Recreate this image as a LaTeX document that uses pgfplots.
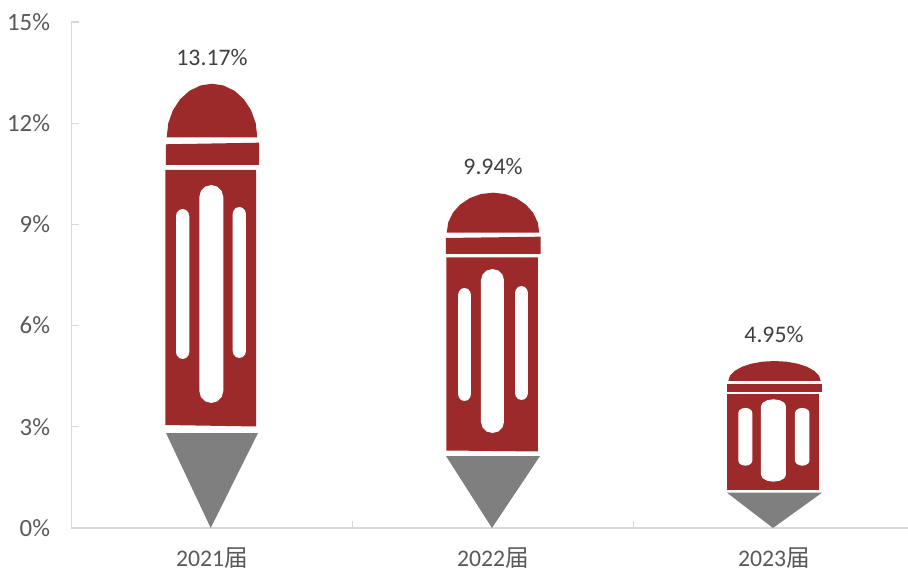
\documentclass[border=0pt]{standalone}
\usepackage{fontspec}
\setmainfont{Carlito}
\newfontfamily\cjk{Noto Sans CJK SC}
\usepackage{pgfplots}
\pgfplotsset{compat=1.18}
\definecolor{pred}{HTML}{9C2A2A}
\definecolor{pgrey}{HTML}{7F7F7F}
\definecolor{axc}{HTML}{D9D9D9}
\definecolor{tickc}{HTML}{595959}
\definecolor{labc}{HTML}{404040}
\begin{document}
\begin{tikzpicture}[x=0.75pt,y=0.75pt]
\path[use as bounding box] (-71.5,-43) rectangle (836.5,528);
\begin{axis}[
  at={(0,0)},anchor=south west,
  scale only axis,width=627.4pt,height=379.5pt,
  xmin=-0.5,xmax=2.477,ymin=0,ymax=15,
  axis y line*=left,axis x line*=bottom,
  axis line style={draw=axc,line width=1.3pt,-},
  tick align=inside,
  major tick length=5.25pt,minor tick length=5.25pt,
  ytick={0,3,6,9,12,15},
  yticklabels={0\%,3\%,6\%,9\%,12\%,15\%},
  y tick style={draw=axc,line width=1pt},
  xtick={0,1,2},
  xticklabels={2021{\cjk 届},2022{\cjk 届},2023{\cjk 届}},
  major x tick style={draw=none},
  minor xtick={0.5,1.5},
  minor x tick style={draw=axc,line width=1pt},
  tick label style={text=tickc},
  yticklabel style={font=\fontsize{18.6}{20}\selectfont,xshift=-12.6pt},
  xticklabel style={font=\fontsize{17.8}{20}\selectfont,yshift=-14.8pt,inner sep=0pt},
  clip=false,
]
% --- 2021
\addplot[fill=pred,draw=none] coordinates {(-.1612,11.582)(-.1557,11.993)(-.1396,12.376)(-.1140,12.705)(-.0806,12.957)(-.0417,13.116)(0,13.17)(.0417,13.116)(.0806,12.957)(.1140,12.705)(.1396,12.376)(.1557,11.993)(.1612,11.582)} --cycle;
\addplot[fill=pred,draw=none] coordinates {(-.1637,11.375)(.1673,11.422)(.1673,10.761)(-.1637,10.761)} --cycle;
\addplot[fill=pred,draw=none] coordinates {(-.1655,10.613)(.1566,10.613)(.1566,3.009)(-.1655,3.053)} --cycle;
\addplot[fill=pgrey,draw=none] coordinates {(-.1637,2.816)(.1637,2.816)(-.0046,0)} --cycle;
\addplot[fill=white,draw=none] coordinates {(.0402,9.812)(.0345,9.990)(.0189,10.120)(-.0025,10.168)(-.0239,10.120)(-.0395,9.990)(-.0452,9.812)(-.0452,4.062)(-.0395,3.884)(-.0239,3.754)(-.0025,3.706)(.0189,3.754)(.0345,3.884)(.0402,4.062)} --cycle;
\addplot[fill=white,draw=none] coordinates {(-.0808,9.249)(-.0840,9.353)(-.0927,9.429)(-.1045,9.457)(-.1163,9.429)(-.1250,9.353)(-.1281,9.249)(-.1281,5.217)(-.1250,5.113)(-.1163,5.037)(-.1045,5.010)(-.0927,5.037)(-.0840,5.113)(-.0808,5.217)} --cycle;
\addplot[fill=white,draw=none] coordinates {(.1210,9.308)(.1178,9.412)(.1091,9.488)(.0973,9.516)(.0855,9.488)(.0768,9.412)(.0737,9.308)(.0737,5.247)(.0768,5.143)(.0855,5.067)(.0973,5.040)(.1091,5.067)(.1178,5.143)(.1210,5.247)} --cycle;
% --- 2022
\addplot[fill=pred,draw=none] coordinates {(.8352,8.754)(.8408,9.061)(.8573,9.347)(.8835,9.592)(.9176,9.781)(.9573,9.900)(1,9.94)(1.0427,9.900)(1.0824,9.781)(1.1165,9.592)(1.1427,9.347)(1.1592,9.061)(1.1648,8.754)} --cycle;
\addplot[fill=pred,draw=none] coordinates {(.8327,8.597)(1.1694,8.636)(1.1694,8.123)(.8327,8.123)} --cycle;
\addplot[fill=pred,draw=none] coordinates {(.8345,8.019)(1.1601,8.019)(1.1601,2.268)(.8345,2.297)} --cycle;
\addplot[fill=pgrey,draw=none] coordinates {(.8327,2.134)(1.1673,2.134)(.9964,0)} --cycle;
\addplot[fill=white,draw=none] coordinates {(1.0391,7.352)(1.0336,7.515)(1.0187,7.634)(.9982,7.678)(.9777,7.634)(.9628,7.515)(.9573,7.352)(.9573,3.142)(.9628,2.979)(.9777,2.860)(.9982,2.816)(1.0187,2.860)(1.0336,2.979)(1.0391,3.142)} --cycle;
\addplot[fill=white,draw=none] coordinates {(.9217,6.907)(.9186,7.011)(.9102,7.087)(.8986,7.115)(.8870,7.087)(.8786,7.011)(.8755,6.907)(.8755,3.972)(.8786,3.868)(.8870,3.792)(.8986,3.765)(.9102,3.792)(.9186,3.868)(.9217,3.972)} --cycle;
\addplot[fill=white,draw=none] coordinates {(1.1245,6.966)(1.1214,7.070)(1.1130,7.146)(1.1014,7.174)(1.0898,7.146)(1.0814,7.070)(1.0783,6.966)(1.0783,4.002)(1.0814,3.898)(1.0898,3.822)(1.1014,3.795)(1.1130,3.822)(1.1214,3.898)(1.1245,4.002)} --cycle;
% --- 2023
\addplot[fill=pred,draw=none] coordinates {(1.8374,4.358)(1.8430,4.511)(1.8594,4.654)(1.8856,4.777)(1.9196,4.871)(1.9592,4.930)(2.0018,4.95)(2.0444,4.930)(2.0840,4.871)(2.1180,4.777)(2.1442,4.654)(2.1606,4.511)(2.1662,4.358)} --cycle;
\addplot[fill=pred,draw=none] coordinates {(1.8327,4.260)(2.1708,4.260)(2.1708,4.041)(1.8327,4.041)} --cycle;
\addplot[fill=pred,draw=none] coordinates {(1.8327,3.963)(2.1601,3.963)(2.1601,1.127)(1.8327,1.127)} --cycle;
\addplot[fill=pgrey,draw=none] coordinates {(1.8327,1.046)(2.1708,1.046)(1.9964,0)} --cycle;
\addplot[fill=white,draw=none] coordinates {(2.0427,3.608)(2.0367,3.712)(2.0204,3.788)(1.9982,3.815)(1.9760,3.788)(1.9597,3.712)(1.9537,3.608)(1.9537,1.580)(1.9597,1.476)(1.9760,1.400)(1.9982,1.373)(2.0204,1.400)(2.0367,1.476)(2.0427,1.580)} --cycle;
\addplot[fill=white,draw=none] coordinates {(1.9228,3.412)(1.9195,3.486)(1.9104,3.540)(1.8979,3.560)(1.8854,3.540)(1.8763,3.486)(1.8730,3.412)(1.8730,1.995)(1.8763,1.921)(1.8854,1.867)(1.8979,1.847)(1.9104,1.867)(1.9195,1.921)(1.9228,1.995)} --cycle;
\addplot[fill=white,draw=none] coordinates {(2.1263,3.412)(2.1228,3.486)(2.1134,3.540)(2.1005,3.560)(2.0876,3.540)(2.0782,3.486)(2.0747,3.412)(2.0747,1.995)(2.0782,1.921)(2.0876,1.867)(2.1005,1.847)(2.1134,1.867)(2.1228,1.921)(2.1263,1.995)} --cycle;
% --- values
\addplot[draw=none,mark=none,point meta=explicit symbolic,
  nodes near coords,
  every node near coord/.append style={font=\fontsize{17.8}{20}\selectfont,text=labc,anchor=center,yshift=20pt}]
  coordinates {(0,13.17)[13.17\%] (1,9.94)[9.94\%] (2,4.95)[4.95\%]};
\end{axis}
\end{tikzpicture}
\end{document}
